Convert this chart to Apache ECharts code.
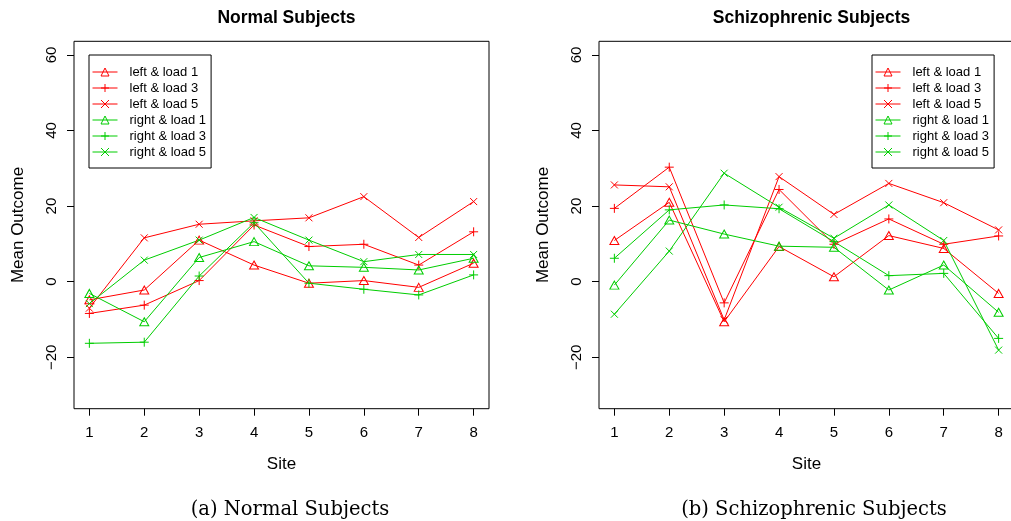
<!DOCTYPE html>
<html>
<head>
<meta charset="utf-8">
<script src="https://cdn.jsdelivr.net/npm/echarts@6/dist/echarts.min.js"></script>
<style>
html,body{margin:0;padding:0;background:#fff;}
#chart{width:1011px;height:521px;}
</style>
</head>
<body>
<div id="chart"></div>
<script>
// ---- data ----
const sites = [1, 2, 3, 4, 5, 6, 7, 8];
const yTicks = [-20, 0, 20, 40, 60];
const seriesNames = ['left & load 1', 'left & load 3', 'left & load 5', 'right & load 1', 'right & load 3', 'right & load 5'];
const panelTitles = ['Normal Subjects', 'Schizophrenic Subjects'];
const captions = ['(a) Normal Subjects', '(b) Schizophrenic Subjects'];

const normalLeftLoad1  = [-4.8, -2.2, 11.0, 4.4, -0.4, 0.3, -1.5, 4.9];
const normalLeftLoad3  = [-8.4, -6.2, 0.3, 15.0, 9.3, 9.9, 4.4, 13.2];
const normalLeftLoad5  = [-7.0, 11.6, 15.2, 16.1, 16.9, 22.5, 11.7, 21.2];
const normalRightLoad1 = [-3.1, -10.6, 6.4, 10.6, 4.2, 3.8, 3.1, 6.2];
const normalRightLoad3 = [-16.3, -16.0, 1.5, 15.6, -0.4, -2.0, -3.5, 1.8];
const normalRightLoad5 = [-5.8, 5.7, 11.0, 17.0, 11.0, 5.3, 7.2, 7.2];

const schizLeftLoad1  = [10.9, 21.0, -10.6, 9.3, 1.3, 12.2, 8.8, -3.1];
const schizLeftLoad3  = [19.4, 30.3, -5.6, 24.4, 9.9, 16.6, 9.9, 12.1];
const schizLeftLoad5  = [25.6, 25.1, -10.1, 27.8, 17.8, 26.0, 20.9, 13.7];
const schizRightLoad1 = [-0.9, 16.3, 12.6, 9.4, 9.1, -2.2, 4.4, -8.1];
const schizRightLoad3 = [6.2, 19.0, 20.3, 19.3, 10.6, 1.6, 2.2, -15.0];
const schizRightLoad5 = [-8.6, 8.1, 28.7, 19.7, 11.5, 20.3, 10.9, -18.1];

// ---- styling ----
const RED = '#FF0000', GREEN = '#00CD00';
const SANS = '"Liberation Sans", Arial, Helvetica, sans-serif';
const SERIF = '"DejaVu Serif", serif';
const TRI = 'path://M5,0L10,8.66L0,8.66Z';
const PLUS = 'path://M5,0L5,10M0,5L10,5';
const CROSS = 'path://M0,0L10,10M10,0L0,10';
const styles = [
  {c: RED, s: TRI, z: [9, 8]}, {c: RED, s: PLUS, z: 9}, {c: RED, s: CROSS, z: 7},
  {c: GREEN, s: TRI, z: [9, 8]}, {c: GREEN, s: PLUS, z: 9}, {c: GREEN, s: CROSS, z: 7}
];
const panels = [
  [normalLeftLoad1, normalLeftLoad3, normalLeftLoad5, normalRightLoad1, normalRightLoad3, normalRightLoad5],
  [schizLeftLoad1, schizLeftLoad3, schizLeftLoad5, schizRightLoad1, schizRightLoad3, schizRightLoad5]
];
const gridLefts = [74, 599];
const legendLefts = [89, 872];
const captionCenters = [285, 809];
const PW = 415;

const grids = [], xAxes = [], yAxes = [], series = [], titles = [], legends = [];
panels.forEach((panel, p) => {
  grids.push({left: gridLefts[p], width: PW, top: 41.3, height: 367.4, show: true,
    outerBoundsMode: 'none', containLabel: false,
    borderColor: '#000', borderWidth: 1, backgroundColor: 'transparent'});
  xAxes.push({type: 'value', gridIndex: p, min: 0.72, max: 8.28,
    name: 'Site', nameLocation: 'middle', nameGap: 47,
    nameTextStyle: {fontFamily: SANS, fontSize: 17, color: '#000'},
    axisLine: {show: false, onZero: false}, splitLine: {show: false},
    axisTick: {show: true, length: 7, customValues: sites, lineStyle: {color: '#000'}},
    axisLabel: {customValues: sites, margin: 17, fontFamily: SANS, fontSize: 15, color: '#000'}});
  yAxes.push({type: 'value', gridIndex: p, min: -33.6, max: 63.6,
    name: 'Mean Outcome', nameLocation: 'middle', nameGap: 47, nameRotate: 90,
    nameTextStyle: {fontFamily: SANS, fontSize: 17, color: '#000'},
    axisLine: {show: false, onZero: false}, splitLine: {show: false},
    axisTick: {show: true, length: 7, customValues: yTicks, lineStyle: {color: '#000'}},
    axisLabel: {customValues: yTicks, rotate: 90, margin: 15, fontFamily: SANS, fontSize: 15, color: '#000',
      formatter: v => (v < 0 ? '\u2212' + Math.abs(v) : String(v))}});
  panel.forEach((vals, i) => {
    const st = styles[i];
    series.push({type: 'line', name: seriesNames[i], xAxisIndex: p, yAxisIndex: p,
      data: sites.map((s, k) => [s, vals[k]]),
      symbol: st.s, symbolSize: st.z, symbolKeepAspect: false, showSymbol: true,
      lineStyle: {color: st.c, width: 1},
      itemStyle: {color: 'rgba(0,0,0,0)', borderColor: st.c, borderWidth: 1},
      emphasis: {disabled: true}, silent: true});
  });
  const cx = gridLefts[p] + PW / 2;
  titles.push({text: panelTitles[p], left: cx, top: 4, textAlign: 'center',
    textStyle: {fontFamily: SANS, fontSize: 17.5, fontWeight: 'bold', color: '#000'}});
  titles.push({text: captions[p], left: captionCenters[p], top: 495, textAlign: 'center',
    textStyle: {fontFamily: SERIF, fontSize: 19.5, fontWeight: 'normal', color: '#000'}});
  legends.push({left: legendLefts[p], top: 55, orient: 'vertical', data: seriesNames,
    itemWidth: 25, itemHeight: 10, itemGap: 2, selectedMode: false,
    borderColor: '#000', borderWidth: 1, padding: [10, 5, 9, 3], backgroundColor: '#fff',
    lineStyle: {width: 1},
    itemStyle: {borderWidth: 1, color: 'rgba(0,0,0,0)'},
    textStyle: {fontFamily: SANS, fontSize: 13, color: '#000', lineHeight: 14, padding: [0, 0, 0, 7]}});
});

const chart = echarts.init(document.getElementById('chart'), null, {renderer: 'canvas'});
chart.setOption({
  animation: false,
  backgroundColor: '#fff',
  title: titles,
  legend: legends,
  grid: grids,
  xAxis: xAxes,
  yAxis: yAxes,
  series: series
});
</script>
</body>
</html>
